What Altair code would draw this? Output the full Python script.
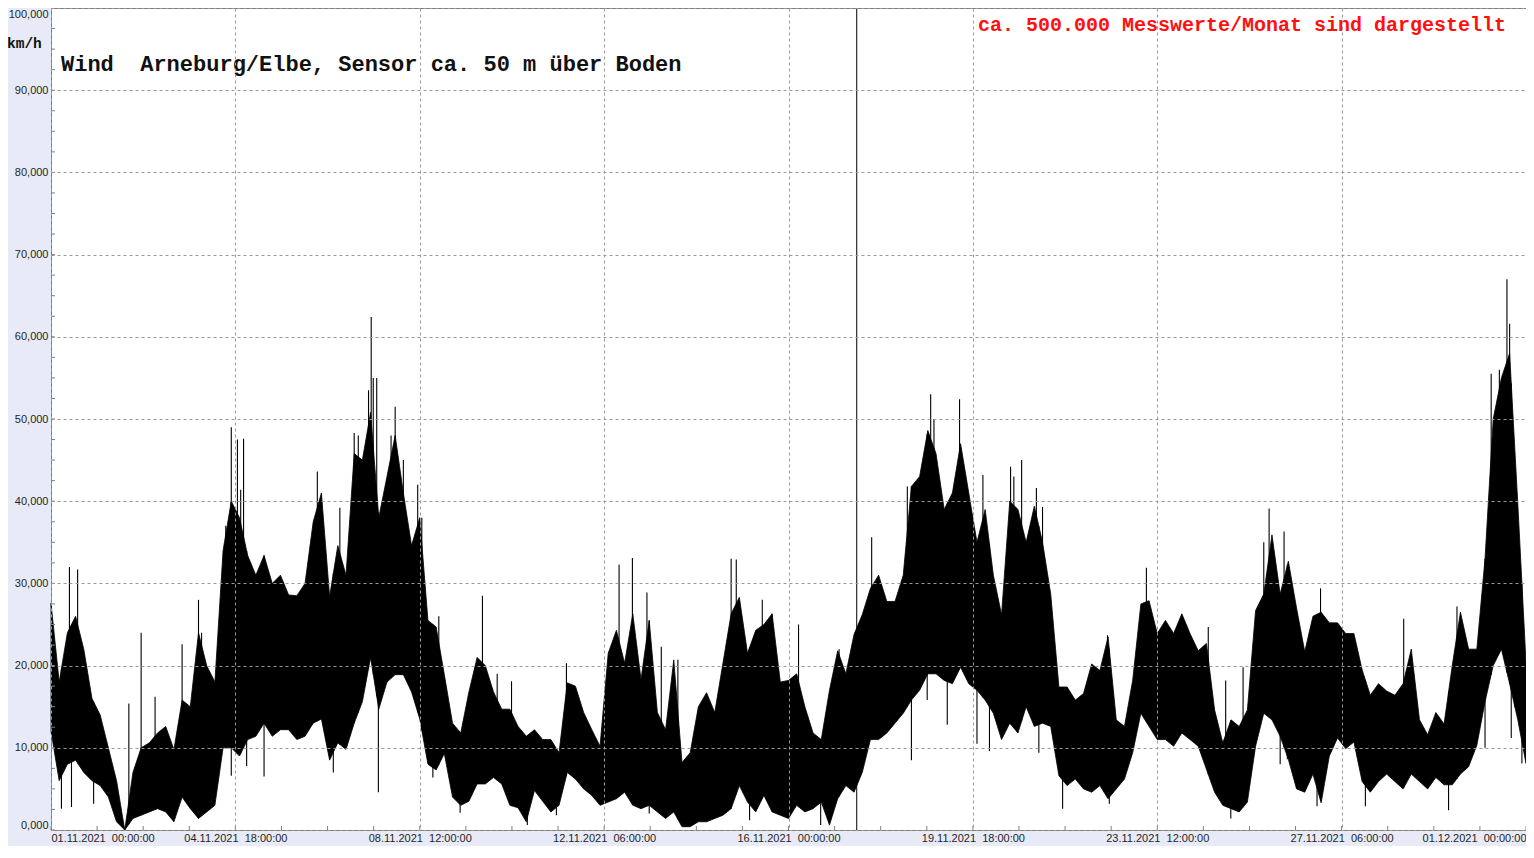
import altair as alt
import pandas as pd
import numpy as np

# ---- data (km/h), 4-hour envelope from 01.11.2021 00:00 ----
START = pd.Timestamp("2021-11-01T00:00:00")
STEP_H = 4

hi = [
    27.6, 18, 24, 26, 22, 16, 14, 10, 6, 0,
    7, 10, 10.6, 11.8, 12.6, 9.8, 15.8, 15, 24, 20,
    18, 34, 40, 38, 33.4, 31, 33.4, 30, 31, 28.6,
    28.5, 30, 37.5, 41, 28.4, 34.6, 31, 45.8, 45, 50.8,
    38, 43, 48, 41, 34.6, 38, 25.5, 24.7, 18.9, 13,
    11.8, 16.8, 21, 20, 16.8, 14.7, 14.7, 12.6, 11.4, 12.2,
    11, 11, 9.4, 17.9, 17.5, 14.3, 12.2, 10.2, 21.5, 24.3,
    20.3, 26.3, 18.3, 25.5, 14.3, 12.2, 20.7, 8.2, 9.4, 15,
    16.7, 14.3, 20.3, 26.3, 28.3, 21.5, 24.3, 25, 26.3, 18,
    18.2, 19, 15, 11.8, 11, 17, 21.8, 19, 23.8, 26.2,
    29.4, 31, 27.8, 27.8, 31, 41.8, 43, 48.6, 45.8, 39,
    41, 47, 41, 35, 39, 31, 26.2, 40, 39, 35,
    39.4, 35, 28.7, 17.4, 17.4, 15.8, 16.6, 20.2, 19.4, 23.5,
    13.4, 12.6, 18.2, 27.5, 27.9, 23.9, 25.5, 23.9, 26.3, 23.9,
    21.8, 22.7, 14.6, 10.6, 13.4, 12.6, 14.6, 26.7, 28.7, 35.9,
    28.7, 32.7, 27, 21.7, 26, 26.5, 25.2, 25.2, 23.9, 23.9,
    19.5, 16.4, 17.8, 16.9, 16.4, 17.8, 22, 13.4, 11.6, 14.3,
    12.9, 20, 26.5, 22, 22, 33, 50, 55, 58, 39.7,
    20.4,
]
lo = [
    12, 6, 8, 8.5, 7, 6, 5.4, 4, 1, 0,
    1.4, 1.8, 2.2, 2.6, 2.2, 1, 4, 2.6, 1.4, 2.2,
    3, 10, 10, 9, 11, 11.4, 13, 11.4, 12.2, 12.2,
    11, 11.4, 13, 13.5, 8.5, 10.6, 9.8, 13, 15.6, 21,
    14.7, 18, 18.9, 18.9, 16.8, 13.5, 8, 7.3, 9.3, 4,
    3, 3.5, 5.6, 5.6, 6.4, 5.6, 3, 2.7, 1, 4.8,
    3.5, 2.2, 3, 7, 6.2, 5, 4.2, 3, 3.4, 3.8,
    4.6, 3, 2.6, 3, 2.2, 1.4, 2.2, 0.4, 0.4, 1,
    1, 1.4, 1.8, 2.6, 5.4, 3.4, 2.2, 4.2, 2.2, 1.8,
    1.4, 3, 2.2, 2.6, 3.4, 0.6, 3.8, 5.4, 4.6, 7,
    11, 11, 11.8, 13, 14.2, 15.8, 17, 19, 19, 18.2,
    17.8, 19.8, 17.8, 17, 15.8, 14.2, 11, 13, 11.8, 15,
    12.6, 13, 12.6, 6.6, 5.4, 6.2, 5, 4.6, 5.4, 3.8,
    5, 6.2, 9.4, 14.2, 12.6, 11, 11, 10.2, 11.8, 11,
    10.2, 7.4, 4.6, 3, 2.6, 2.2, 3.4, 10.2, 14.2, 13.4,
    11.4, 8.6, 5, 4.6, 6.8, 3.3, 9, 11.2, 9.9, 10.7,
    5.9, 4.6, 5.9, 6.8, 5.9, 5, 6.8, 5.9, 5, 6.4,
    5.5, 5.5, 6.8, 7.7, 10.3, 15.6, 20, 22, 17.8, 13.4,
    8.1,
]

# single tall gusts (hours after start, km/h)
spike_h = [9, 13, 38, 44, 50.8, 64, 72, 73.5, 85.3, 88, 91, 92.6, 94, 130, 141, 148, 150, 155,
           156.3, 157.3, 159, 166, 168, 172, 179, 181, 189.3, 210.6, 217.8, 224.8, 251.6, 277.3,
           283.8, 290.9, 297.9, 306, 332, 334.5, 347.2, 351.9, 364.9, 384.7, 400.6, 418, 429.4,
           431, 443.5, 454.9, 468.4, 470, 473.8, 481, 484, 515.7, 534.7, 564.9, 573.4, 581.9,
           592, 594.6, 601.9, 619.7, 660.3, 686.3, 703, 707, 710.7, 712, 714.6]
spike_v = [32, 31.7, 15.4, 24, 16.2, 22.6, 28, 24, 37, 49, 47.5, 41.4, 47.6, 43.6, 39.2, 48.3, 48,
           53.5, 62.4, 55, 55, 48, 51.5, 45, 42, 38, 26, 28.5, 19, 18.1, 20.3, 32.3, 33.1, 28.9,
           22.3, 20.7, 33, 32.9, 28, 26.3, 25, 22, 35.6, 41.8, 53, 50, 52.4, 43.2, 44.2, 43, 45,
           41.6, 39.3, 23.7, 31.9, 24.7, 18.2, 19.8, 35, 39.1, 36.3, 29.4, 25.7, 27.2, 55.5, 56,
           67, 61.6, 43.6]
# single low dips (hours after start, km/h)
dip_h = [5.1, 10, 20.8, 88, 95.5, 104, 137.8, 159.8, 186.4, 199.7, 232.5, 246.7, 292, 309.3, 341,
         375.7, 420, 427.7, 437.5, 452, 458.1, 482.2, 493.8, 516.6, 575.9, 600, 603.5, 618, 641.6,
         682.2, 700, 712.8, 718]
dip_v = [2.6, 2.8, 3.2, 6.6, 7.8, 6.5, 7, 4.6, 6.4, 2.1, 0.6, 1.8, 2.0, 0.4, 1.2, 0.6, 8.5, 15.8,
         12.8, 10.5, 9.6, 9.4, 2.6, 3.2, 1.4, 8, 8.6, 2.9, 2.9, 2.4, 10, 11.2, 8.1]

cursor_h = 393.3
major_step_h = 90
minor_step_h = 22.5
end_h = 720

title_text = "Wind\u00a0\u00a0Arneburg/Elbe, Sensor ca. 50 m über Boden"
red_text = "ca. 500.000 Messwerte/Monat sind dargestellt"
unit_text = "km/h"

# ---- tables ----
def ms(h):
    return float((START + pd.Timedelta(hours=float(h))).value // 10**6)

band_h = [STEP_H * i for i in range(len(hi))]
band = pd.DataFrame({"t": [ms(h) for h in band_h], "hi": hi, "lo": lo})
spikes = pd.DataFrame({
    "t": [ms(h) for h in spike_h + dip_h],
    "v": spike_v + dip_v,
    "base": list(np.interp(spike_h, band_h, lo)) + list(np.interp(dip_h, band_h, hi)),
})
cursor = pd.DataFrame({"t": [ms(cursor_h)]})
major_vals = [ms(h) for h in np.arange(0, end_h + 1, major_step_h)]
xminor = pd.DataFrame({"t": [ms(h) for h in np.arange(0, end_h + 0.1, minor_step_h)]})
yminor = pd.DataFrame({"v": list(np.arange(0, 100.1, 2.5))})

W, H = 1475, 822
xscale = alt.Scale(type="utc", domain=[ms(0), ms(end_h)])
yscale = alt.Scale(domain=[0, 100], nice=False)

grid_common = dict(gridColor="#9a9a9a", gridDash=[3, 3], gridWidth=1, ticks=False,
                   domain=False, labelFont="Liberation Sans", labelFontSize=11,
                   labelColor="#1e1e1e", title=None, zindex=1)

x_axis = alt.Axis(values=major_vals,
                  labelExpr="utcFormat(datum.value, '%d.%m.%Y\u00a0\u00a0%H:%M:%S')",
                  labelFlush=True, labelPadding=2, labelOverlap=False, **grid_common)
y_axis = alt.Axis(values=list(range(0, 101, 10)),
                  labelExpr="replace(format(datum.value, '.3f'), '.', ',')",
                  labelFlush=True, labelPadding=3, **grid_common)

X = alt.X("t:T", scale=xscale, axis=x_axis)

area = alt.Chart(band).mark_area(color="black", stroke="black", strokeWidth=0.8).encode(
    x=X,
    y=alt.Y("hi:Q", scale=yscale, axis=y_axis),
    y2="lo:Q",
)

spk = alt.Chart(spikes).mark_rule(color="black", strokeWidth=1.1).encode(
    x=X,
    y=alt.Y("v:Q", scale=yscale, axis=y_axis),
    y2="base:Q",
)

cur = alt.Chart(cursor).mark_rule(color="black", strokeWidth=1).encode(x=X)

xt = alt.Chart(xminor).mark_rule(color="#808080", strokeWidth=1).encode(
    x=X, y=alt.value(H), y2=alt.value(H - 4),
)
yt = alt.Chart(yminor).mark_rule(color="#808080", strokeWidth=1).encode(
    y=alt.Y("v:Q", scale=yscale, axis=y_axis),
    x=alt.value(0), x2=alt.value(4),
)

def txt(text, x, y, size, color, bold=True, font="Liberation Mono", align="left"):
    return alt.Chart(pd.DataFrame({"a": [0]})).mark_text(
        text=text, font=font, fontSize=size, fontWeight="bold" if bold else "normal",
        color=color, align=align, baseline="alphabetic",
    ).encode(x=alt.value(x), y=alt.value(y))

t1 = txt(title_text, 10, 63, 22, "#111111")
t2 = txt(red_text, 927, 23, 20, "#ff1010")
t3 = txt(unit_text, -44, 40, 14.5, "#111111")

chart = alt.layer(area, spk, cur, xt, yt, t1, t2, t3).properties(
    width=W, height=H,
    padding={"left": 43, "top": 0, "right": 0, "bottom": 16},
    autosize=alt.AutoSizeParams(type="none"),
    background="#e8ebf7",
).configure_view(stroke="#7a7a7a", strokeWidth=1, fill="white")

chart.save("out.html", embed_options={"renderer": "svg", "actions": False})
